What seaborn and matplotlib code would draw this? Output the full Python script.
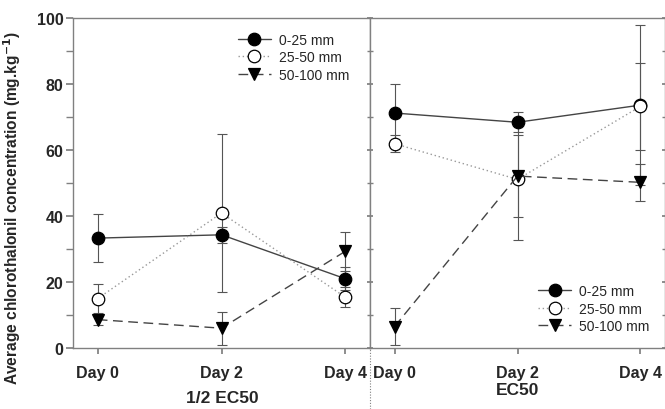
import matplotlib
matplotlib.use("Agg")
import matplotlib.pyplot as plt
import matplotlib.ticker as mticker
from matplotlib.lines import Line2D
import seaborn as sns

sns.set_theme(style="ticks")
plt.rcParams["font.family"] = ["Liberation Sans", "DejaVu Sans"]

# ── data ─────────────────────────────────────────────
days = [0, 2, 4]
day_labels = ["Day 0", "Day 2", "Day 4"]
depths = ["0-25 mm", "25-50 mm", "50-100 mm"]
panels = ["1/2 EC50", "EC50"]

half_ec50_mean = {
    "0-25 mm":   [33.3, 34.3, 21.0],
    "25-50 mm":  [15.0, 40.9, 15.4],
    "50-100 mm": [8.6, 6.0, 29.3],
}
half_ec50_err = {
    "0-25 mm":   [7.2, 2.5, 3.5],
    "25-50 mm":  [4.4, 23.9, 3.0],
    "50-100 mm": [1.7, 5.0, 6.0],
}
ec50_mean = {
    "0-25 mm":   [71.2, 68.4, 73.6],
    "25-50 mm":  [61.9, 51.1, 73.2],
    "50-100 mm": [6.5, 52.1, 50.2],
}
ec50_err = {
    "0-25 mm":   [8.8, 3.0, 24.3],
    "25-50 mm":  [2.6, 18.4, 13.2],
    "50-100 mm": [5.6, 12.3, 5.6],
}

styles = {
    "0-25 mm":   dict(marker="o", mfc="black", ls="-", color="#444444"),
    "25-50 mm":  dict(marker="o", mfc="white", ls=(0, (1, 2)), color="#999999"),
    "50-100 mm": dict(marker="v", mfc="black", ls=(0, (7, 4)), color="#444444"),
}
SPINE = "#808080"
TICK_FS = 11.5

fig = plt.figure(figsize=(6.65, 4.1), dpi=100)
W, H = 665, 410
ax_l = fig.add_axes([73 / W, 61 / H, 297 / W, 330 / H])
ax_r = fig.add_axes([370 / W, 61 / H, 295 / W, 330 / H])


def draw_panel(ax, means, errs):
    for d in depths:
        st = styles[d]
        ax.errorbar(days, means[d], yerr=errs[d], fmt="none", ecolor="#555555",
                    elinewidth=0.8, capsize=3.5, capthick=0.8, zorder=2)
        sns.lineplot(x=days, y=means[d], ax=ax, color=st["color"],
                     linestyle=st["ls"], linewidth=1.0, marker=st["marker"],
                     markersize=9, markerfacecolor=st["mfc"],
                     markeredgecolor="black", markeredgewidth=0.9,
                     errorbar=None, zorder=3)
    ax.set_xlim(-0.4, 4.4)
    ax.set_ylim(0, 100)
    ax.set_xticks(days)
    ax.set_xticklabels(day_labels, fontweight="bold", fontsize=TICK_FS)
    ax.yaxis.set_major_locator(mticker.MultipleLocator(20))
    ax.yaxis.set_minor_locator(mticker.MultipleLocator(10))
    for sp in ax.spines.values():
        sp.set_color(SPINE)
        sp.set_linewidth(1.0)
        sp.set_visible(True)
    ax.tick_params(axis="x", length=4, color=SPINE, pad=8)
    ax.tick_params(axis="y", which="both", color=SPINE, length=5)
    ax.set_xlabel("")
    ax.set_ylabel("")


def legend_handles():
    hs = []
    for d in depths:
        st = styles[d]
        hs.append(Line2D([], [], color=st["color"], linestyle=st["ls"],
                         linewidth=1.0, marker=st["marker"], markersize=9,
                         markerfacecolor=st["mfc"], markeredgecolor="black",
                         markeredgewidth=0.9, label=d))
    return hs


draw_panel(ax_l, half_ec50_mean, half_ec50_err)
draw_panel(ax_r, ec50_mean, ec50_err)

ax_l.set_yticks([0, 20, 40, 60, 80, 100])
ax_l.set_yticklabels(["0", "20", "40", "60", "80", "100"], fontweight="bold", fontsize=TICK_FS)
ax_l.tick_params(axis="y", which="both", pad=2)
ax_l.set_ylabel("Average chlorothalonil concentration (mg.kg$^{\\mathbf{-1}}$)",
                fontweight="bold", fontsize=11.2)
ax_l.yaxis.set_label_coords(-0.169, 0.427)

ax_r.tick_params(axis="y", which="both", left=True, right=True,
                 direction="inout", labelleft=False)

ax_l.legend(handles=legend_handles(), loc="upper left", bbox_to_anchor=(0.554, 0.955),
            frameon=False, fontsize=10, handlelength=2.4, handletextpad=0.55,
            labelspacing=0.25, borderpad=0, borderaxespad=0)
ax_r.legend(handles=legend_handles(), loc="lower left", bbox_to_anchor=(0.569, 0.045),
            frameon=False, fontsize=10, handlelength=2.4, handletextpad=0.55,
            labelspacing=0.25, borderpad=0, borderaxespad=0)

# panel titles under the x axis
fig.text(222 / W, 1 - 399 / H, panels[0], ha="center", va="center",
         fontweight="bold", fontsize=12.5)
fig.text(518 / W, 1 - 391 / H, panels[1], ha="center", va="center",
         fontweight="bold", fontsize=12.5)

# dotted separator between the panels' x labels
fig.add_artist(Line2D([370 / W, 370 / W], [0, 61 / H], transform=fig.transFigure,
                      color=SPINE, linewidth=0.8, linestyle=(0, (1, 1.5))))

fig.savefig("out.png", dpi=100)
